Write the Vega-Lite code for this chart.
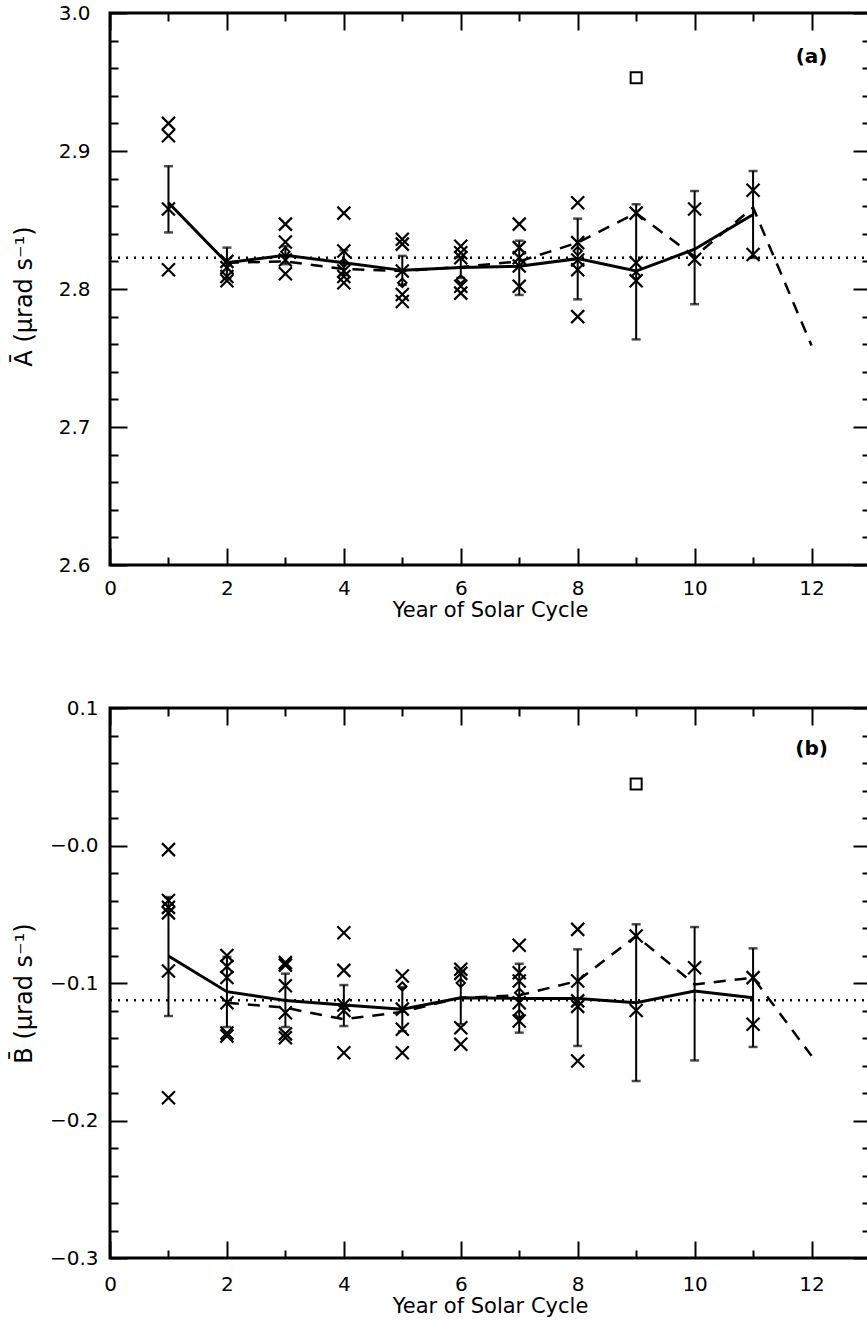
{
  "$schema": "https://vega.github.io/schema/vega-lite/v6.json",
  "padding": {"left": 10, "top": 1, "right": 0, "bottom": 0},
  "spacing": 143,
  "bounds": "flush",
  "config": {
    "view": {"stroke": "black", "strokeWidth": 3},
    "font": "DejaVu Sans",
    "axis": {
      "domain": false, "grid": false, "tickColor": "black", "tickWidth": 2,
      "labelColor": "black", "labelFont": "DejaVu Sans", "labelFontSize": 20,
      "titleFont": "DejaVu Sans", "titleFontSize": 21, "titleFontWeight": "normal", "titleColor": "black",
      "labelFlush": false, "labelOverlap": false
    }
  },
  "datasets": {
    "a_pts": [
      {"x": 1, "y": 2.920}, {"x": 1, "y": 2.911}, {"x": 1, "y": 2.858}, {"x": 1, "y": 2.814},
      {"x": 2, "y": 2.820}, {"x": 2, "y": 2.8155}, {"x": 2, "y": 2.809}, {"x": 2, "y": 2.806},
      {"x": 3, "y": 2.847}, {"x": 3, "y": 2.834}, {"x": 3, "y": 2.821}, {"x": 3, "y": 2.811},
      {"x": 4, "y": 2.855}, {"x": 4, "y": 2.8275}, {"x": 4, "y": 2.813}, {"x": 4, "y": 2.809}, {"x": 4, "y": 2.8045},
      {"x": 5, "y": 2.836}, {"x": 5, "y": 2.8325}, {"x": 5, "y": 2.813}, {"x": 5, "y": 2.796}, {"x": 5, "y": 2.791},
      {"x": 6, "y": 2.831}, {"x": 6, "y": 2.8263}, {"x": 6, "y": 2.8227}, {"x": 6, "y": 2.802}, {"x": 6, "y": 2.797},
      {"x": 7, "y": 2.847}, {"x": 7, "y": 2.830}, {"x": 7, "y": 2.8227}, {"x": 7, "y": 2.8167}, {"x": 7, "y": 2.802},
      {"x": 8, "y": 2.8625}, {"x": 8, "y": 2.8336}, {"x": 8, "y": 2.821}, {"x": 8, "y": 2.814}, {"x": 8, "y": 2.780},
      {"x": 9, "y": 2.855}, {"x": 9, "y": 2.819}, {"x": 9, "y": 2.806},
      {"x": 10, "y": 2.858}, {"x": 10, "y": 2.8215},
      {"x": 11, "y": 2.8715}, {"x": 11, "y": 2.825}
    ],
    "a_dia": [
      {"x": 3, "y": 2.827}, {"x": 4, "y": 2.819}, {"x": 5, "y": 2.8045}, {"x": 6, "y": 2.807},
      {"x": 8, "y": 2.8275}, {"x": 9, "y": 2.8094}
    ],
    "a_mean": [
      {"x": 1, "y": 2.8625, "lo": 2.841, "hi": 2.889},
      {"x": 2, "y": 2.819, "lo": 2.808, "hi": 2.830},
      {"x": 3, "y": 2.8244, "lo": 2.818, "hi": 2.831},
      {"x": 4, "y": 2.819, "lo": 2.810, "hi": 2.828},
      {"x": 5, "y": 2.8135, "lo": 2.803, "hi": 2.824},
      {"x": 6, "y": 2.8155, "lo": 2.808, "hi": 2.823},
      {"x": 7, "y": 2.8165, "lo": 2.7957, "hi": 2.835},
      {"x": 8, "y": 2.822, "lo": 2.7925, "hi": 2.851},
      {"x": 9, "y": 2.813, "lo": 2.7635, "hi": 2.8614},
      {"x": 10, "y": 2.8288, "lo": 2.789, "hi": 2.871},
      {"x": 11, "y": 2.854, "lo": 2.8225, "hi": 2.8855}
    ],
    "a_dash": [
      {"x": 2, "y": 2.819}, {"x": 3, "y": 2.820}, {"x": 4, "y": 2.8145}, {"x": 5, "y": 2.813},
      {"x": 6, "y": 2.816}, {"x": 7, "y": 2.820}, {"x": 8, "y": 2.8336}, {"x": 9, "y": 2.855},
      {"x": 10, "y": 2.8235}, {"x": 11, "y": 2.859}, {"x": 12, "y": 2.759}
    ],
    "a_ref": [{"x": 0, "x2": 13, "y": 2.8227}],
    "a_sq": [{"x": 9, "y": 2.953}],
    "a_lab": [{"x": 12, "y": 2.968, "t": "(a)"}],
    "b_pts": [
      {"x": 1, "y": -0.003}, {"x": 1, "y": -0.040}, {"x": 1, "y": -0.045}, {"x": 1, "y": -0.049}, {"x": 1, "y": -0.0913}, {"x": 1, "y": -0.1834},
      {"x": 2, "y": -0.080}, {"x": 2, "y": -0.088}, {"x": 2, "y": -0.096}, {"x": 2, "y": -0.1143}, {"x": 2, "y": -0.1364}, {"x": 2, "y": -0.1385},
      {"x": 3, "y": -0.0852}, {"x": 3, "y": -0.087}, {"x": 3, "y": -0.102}, {"x": 3, "y": -0.1216}, {"x": 3, "y": -0.137}, {"x": 3, "y": -0.1398},
      {"x": 4, "y": -0.0634}, {"x": 4, "y": -0.0908}, {"x": 4, "y": -0.116}, {"x": 4, "y": -0.120}, {"x": 4, "y": -0.1507},
      {"x": 5, "y": -0.0949}, {"x": 5, "y": -0.119}, {"x": 5, "y": -0.1337}, {"x": 5, "y": -0.1507},
      {"x": 6, "y": -0.090}, {"x": 6, "y": -0.093}, {"x": 6, "y": -0.1325}, {"x": 6, "y": -0.1446},
      {"x": 7, "y": -0.0726}, {"x": 7, "y": -0.0925}, {"x": 7, "y": -0.0985}, {"x": 7, "y": -0.1143}, {"x": 7, "y": -0.1276},
      {"x": 8, "y": -0.061}, {"x": 8, "y": -0.0985}, {"x": 8, "y": -0.113}, {"x": 8, "y": -0.117}, {"x": 8, "y": -0.1567},
      {"x": 9, "y": -0.0658}, {"x": 9, "y": -0.120},
      {"x": 10, "y": -0.0889},
      {"x": 11, "y": -0.0961}, {"x": 11, "y": -0.130}
    ],
    "b_dia": [
      {"x": 5, "y": -0.1025}, {"x": 6, "y": -0.100}, {"x": 7, "y": -0.107}, {"x": 7, "y": -0.1227}
    ],
    "b_mean": [
      {"x": 1, "y": -0.0804, "lo": -0.124, "hi": -0.0375},
      {"x": 2, "y": -0.1063, "lo": -0.132, "hi": -0.081},
      {"x": 3, "y": -0.1127, "lo": -0.132, "hi": -0.0932},
      {"x": 4, "y": -0.116, "lo": -0.1313, "hi": -0.1015},
      {"x": 5, "y": -0.1191, "lo": -0.135, "hi": -0.103},
      {"x": 6, "y": -0.1107, "lo": -0.130, "hi": -0.092},
      {"x": 7, "y": -0.1112, "lo": -0.1361, "hi": -0.086},
      {"x": 8, "y": -0.1112, "lo": -0.1458, "hi": -0.0755},
      {"x": 9, "y": -0.1143, "lo": -0.1713, "hi": -0.0573},
      {"x": 10, "y": -0.1058, "lo": -0.1563, "hi": -0.0593},
      {"x": 11, "y": -0.1107, "lo": -0.1465, "hi": -0.0748}
    ],
    "b_dash": [
      {"x": 2, "y": -0.1143}, {"x": 3, "y": -0.118}, {"x": 4, "y": -0.1264}, {"x": 5, "y": -0.121},
      {"x": 6, "y": -0.1107}, {"x": 7, "y": -0.109}, {"x": 8, "y": -0.0985}, {"x": 9, "y": -0.0658},
      {"x": 10, "y": -0.101}, {"x": 11, "y": -0.0961}, {"x": 12, "y": -0.153}
    ],
    "b_ref": [{"x": 0, "x2": 13, "y": -0.1125}],
    "b_sq": [{"x": 9, "y": 0.0447}],
    "b_lab": [{"x": 12, "y": 0.070, "t": "(b)"}]
  },
  "vconcat": [
    {
      "width": 760, "height": 552,
      "resolve": {"axis": {"x": "independent", "y": "independent"}},
      "encoding": {
        "x": {"field": "x", "type": "quantitative", "scale": {"domain": [0, 13], "nice": false, "zero": false}, "axis": null},
        "y": {"field": "y", "type": "quantitative", "scale": {"domain": [2.6, 3.0], "nice": false, "zero": false}, "axis": null}
      },
      "layer": [
        {"data": {"name": "a_ref"}, "mark": {"type": "rule", "strokeDash": [2, 6], "strokeWidth": 2.5, "color": "black"},
         "encoding": {"x2": {"field": "x2"}}},
        {"data": {"name": "a_mean"}, "mark": {"type": "rule", "strokeWidth": 2, "color": "black"},
         "encoding": {"y": {"field": "lo", "type": "quantitative", "scale": {"domain": [2.6, 3.0], "nice": false, "zero": false}, "axis": null}, "y2": {"field": "hi"}}},
        {"data": {"name": "a_mean"}, "mark": {"type": "tick", "orient": "horizontal", "size": 9, "thickness": 2.5, "color": "black"},
         "encoding": {"y": {"field": "lo", "type": "quantitative", "scale": {"domain": [2.6, 3.0], "nice": false, "zero": false}, "axis": null}}},
        {"data": {"name": "a_mean"}, "mark": {"type": "tick", "orient": "horizontal", "size": 9, "thickness": 2.5, "color": "black"},
         "encoding": {"y": {"field": "hi", "type": "quantitative", "scale": {"domain": [2.6, 3.0], "nice": false, "zero": false}, "axis": null}}},
        {"data": {"name": "a_mean"}, "mark": {"type": "line", "strokeWidth": 3, "color": "black"}},
        {"data": {"name": "a_dash"}, "mark": {"type": "line", "strokeWidth": 2.5, "strokeDash": [12, 9], "color": "black"}},
        {"data": {"name": "a_pts"},
         "mark": {"type": "point", "shape": "M-1,-1L1,1M1,-1L-1,1", "size": 169, "filled": false, "stroke": "black", "strokeWidth": 2.2, "opacity": 1},
         "encoding": {
           "x": {"field": "x", "type": "quantitative", "scale": {"domain": [0, 13], "nice": false, "zero": false},
                 "axis": {"orient": "bottom", "values": [0, 2, 4, 6, 8, 10, 12], "ticks": false, "labelPadding": 13, "title": "Year of Solar Cycle", "titleY": 45, "titleBaseline": "middle"}},
           "y": {"field": "y", "type": "quantitative", "scale": {"domain": [2.6, 3.0], "nice": false, "zero": false},
                 "axis": {"orient": "left", "values": [2.6, 2.7, 2.8, 2.9, 3.0], "ticks": false, "labelPadding": 20, "format": ".1f",
                          "title": "Ā (μrad s⁻¹)", "titleFontSize": 24, "titleX": -86, "titleY": 283, "titleAngle": 270, "titleAlign": "center", "titleBaseline": "middle"}}
         }},
        {"data": {"name": "a_dia"},
         "mark": {"type": "point", "shape": "diamond", "size": 70, "filled": false, "stroke": "black", "strokeWidth": 2, "opacity": 1},
         "encoding": {
           "x": {"field": "x", "type": "quantitative", "scale": {"domain": [0, 13], "nice": false, "zero": false},
                 "axis": {"orient": "bottom", "values": [0, 1, 2, 3, 4, 5, 6, 7, 8, 9, 10, 11, 12, 13], "labels": false, "title": null,
                          "tickSize": {"condition": {"test": "datum.value % 2 === 0", "value": -17}, "value": -8}}},
           "y": {"field": "y", "type": "quantitative", "scale": {"domain": [2.6, 3.0], "nice": false, "zero": false},
                 "axis": {"orient": "left", "values": [2.6, 2.62, 2.64, 2.66, 2.68, 2.7, 2.72, 2.74, 2.76, 2.78, 2.8, 2.82, 2.84, 2.86, 2.88, 2.9, 2.92, 2.94, 2.96, 2.98, 3.0],
                          "labels": false, "title": null,
                          "tickSize": {"condition": {"test": "abs(round(datum.value*100)) % 10 === 0", "value": -17}, "value": -8}}}
         }},
        {"data": {"name": "a_sq"},
         "mark": {"type": "point", "shape": "square", "size": 121, "filled": false, "stroke": "black", "strokeWidth": 2, "opacity": 1},
         "encoding": {
           "x": {"field": "x", "type": "quantitative", "scale": {"domain": [0, 13], "nice": false, "zero": false},
                 "axis": {"orient": "top", "values": [0, 1, 2, 3, 4, 5, 6, 7, 8, 9, 10, 11, 12, 13], "labels": false, "title": null,
                          "tickSize": {"condition": {"test": "datum.value % 2 === 0", "value": -17}, "value": -8}}},
           "y": {"field": "y", "type": "quantitative", "scale": {"domain": [2.6, 3.0], "nice": false, "zero": false},
                 "axis": {"orient": "right", "values": [2.6, 2.62, 2.64, 2.66, 2.68, 2.7, 2.72, 2.74, 2.76, 2.78, 2.8, 2.82, 2.84, 2.86, 2.88, 2.9, 2.92, 2.94, 2.96, 2.98, 3.0],
                          "labels": false, "title": null,
                          "tickSize": {"condition": {"test": "abs(round(datum.value*100)) % 10 === 0", "value": -17}, "value": -8}}}
         }},
        {"data": {"name": "a_lab"},
         "mark": {"type": "text", "font": "DejaVu Sans", "fontSize": 20, "fontWeight": "bold", "color": "black"},
         "encoding": {"text": {"field": "t"}}}
      ]
    },
    {
      "width": 760, "height": 550,
      "resolve": {"axis": {"x": "independent", "y": "independent"}},
      "encoding": {
        "x": {"field": "x", "type": "quantitative", "scale": {"domain": [0, 13], "nice": false, "zero": false}, "axis": null},
        "y": {"field": "y", "type": "quantitative", "scale": {"domain": [-0.3, 0.1], "nice": false, "zero": false}, "axis": null}
      },
      "layer": [
        {"data": {"name": "b_ref"}, "mark": {"type": "rule", "strokeDash": [2, 6], "strokeWidth": 2.5, "color": "black"},
         "encoding": {"x2": {"field": "x2"}}},
        {"data": {"name": "b_mean"}, "mark": {"type": "rule", "strokeWidth": 2, "color": "black"},
         "encoding": {"y": {"field": "lo", "type": "quantitative", "scale": {"domain": [-0.3, 0.1], "nice": false, "zero": false}, "axis": null}, "y2": {"field": "hi"}}},
        {"data": {"name": "b_mean"}, "mark": {"type": "tick", "orient": "horizontal", "size": 9, "thickness": 2.5, "color": "black"},
         "encoding": {"y": {"field": "lo", "type": "quantitative", "scale": {"domain": [-0.3, 0.1], "nice": false, "zero": false}, "axis": null}}},
        {"data": {"name": "b_mean"}, "mark": {"type": "tick", "orient": "horizontal", "size": 9, "thickness": 2.5, "color": "black"},
         "encoding": {"y": {"field": "hi", "type": "quantitative", "scale": {"domain": [-0.3, 0.1], "nice": false, "zero": false}, "axis": null}}},
        {"data": {"name": "b_mean"}, "mark": {"type": "line", "strokeWidth": 3, "color": "black"}},
        {"data": {"name": "b_dash"}, "mark": {"type": "line", "strokeWidth": 2.5, "strokeDash": [12, 9], "color": "black"}},
        {"data": {"name": "b_pts"},
         "mark": {"type": "point", "shape": "M-1,-1L1,1M1,-1L-1,1", "size": 169, "filled": false, "stroke": "black", "strokeWidth": 2.2, "opacity": 1},
         "encoding": {
           "x": {"field": "x", "type": "quantitative", "scale": {"domain": [0, 13], "nice": false, "zero": false},
                 "axis": {"orient": "bottom", "values": [0, 2, 4, 6, 8, 10, 12], "ticks": false, "labelPadding": 16, "title": "Year of Solar Cycle", "titleY": 48, "titleBaseline": "middle"}},
           "y": {"field": "y", "type": "quantitative", "scale": {"domain": [-0.3, 0.1], "nice": false, "zero": false},
                 "axis": {"orient": "left", "values": [-0.3, -0.2, -0.1, 0, 0.1], "ticks": false, "labelPadding": 12,
                          "labelExpr": "datum.value > 0.05 ? format(datum.value, '.1f') : '−' + format(abs(datum.value), '.1f')",
                          "title": "B̄ (μrad s⁻¹)", "titleFontSize": 24, "titleX": -86, "titleY": 285, "titleAngle": 270, "titleAlign": "center", "titleBaseline": "middle"}}
         }},
        {"data": {"name": "b_dia"},
         "mark": {"type": "point", "shape": "diamond", "size": 70, "filled": false, "stroke": "black", "strokeWidth": 2, "opacity": 1},
         "encoding": {
           "x": {"field": "x", "type": "quantitative", "scale": {"domain": [0, 13], "nice": false, "zero": false},
                 "axis": {"orient": "bottom", "values": [0, 1, 2, 3, 4, 5, 6, 7, 8, 9, 10, 11, 12, 13], "labels": false, "title": null,
                          "tickSize": {"condition": {"test": "datum.value % 2 === 0", "value": -17}, "value": -8}}},
           "y": {"field": "y", "type": "quantitative", "scale": {"domain": [-0.3, 0.1], "nice": false, "zero": false},
                 "axis": {"orient": "left", "values": [-0.3, -0.28, -0.26, -0.24, -0.22, -0.2, -0.18, -0.16, -0.14, -0.12, -0.1, -0.08, -0.06, -0.04, -0.02, 0, 0.02, 0.04, 0.06, 0.08, 0.1],
                          "labels": false, "title": null,
                          "tickSize": {"condition": {"test": "abs(round(datum.value*100)) % 10 === 0", "value": -17}, "value": -8}}}
         }},
        {"data": {"name": "b_sq"},
         "mark": {"type": "point", "shape": "square", "size": 121, "filled": false, "stroke": "black", "strokeWidth": 2, "opacity": 1},
         "encoding": {
           "x": {"field": "x", "type": "quantitative", "scale": {"domain": [0, 13], "nice": false, "zero": false},
                 "axis": {"orient": "top", "values": [0, 1, 2, 3, 4, 5, 6, 7, 8, 9, 10, 11, 12, 13], "labels": false, "title": null,
                          "tickSize": {"condition": {"test": "datum.value % 2 === 0", "value": -17}, "value": -8}}},
           "y": {"field": "y", "type": "quantitative", "scale": {"domain": [-0.3, 0.1], "nice": false, "zero": false},
                 "axis": {"orient": "right", "values": [-0.3, -0.28, -0.26, -0.24, -0.22, -0.2, -0.18, -0.16, -0.14, -0.12, -0.1, -0.08, -0.06, -0.04, -0.02, 0, 0.02, 0.04, 0.06, 0.08, 0.1],
                          "labels": false, "title": null,
                          "tickSize": {"condition": {"test": "abs(round(datum.value*100)) % 10 === 0", "value": -17}, "value": -8}}}
         }},
        {"data": {"name": "b_lab"},
         "mark": {"type": "text", "font": "DejaVu Sans", "fontSize": 20, "fontWeight": "bold", "color": "black"},
         "encoding": {"text": {"field": "t"}}}
      ]
    }
  ]
}
